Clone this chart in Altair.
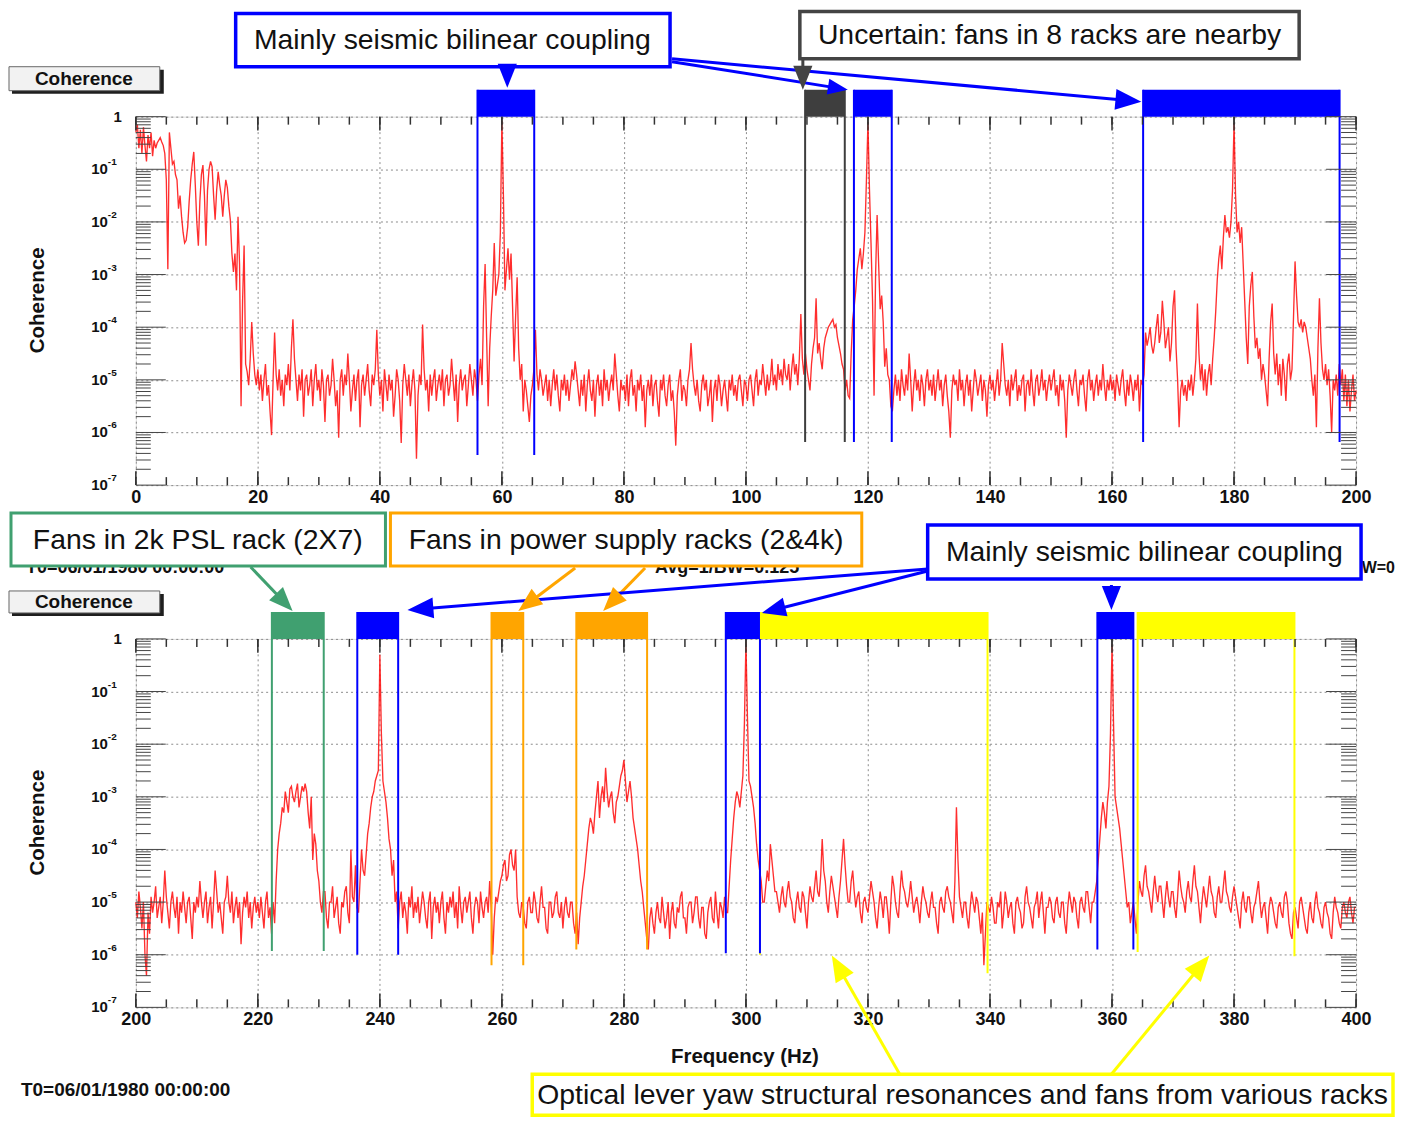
import math
import altair as alt
import pandas as pd

FONT = "Liberation Sans"
W, H = 1222, 369

# ---------------- data: coherence (log10), 0.25 Hz steps ----------------
STEP = 0.25
TOP_START = 0.0
BOT_START = 200.0

TOP_LOG = [
    # 0-10 Hz
    -0.3, -0.15, -0.6, -0.25, -0.7, -0.2, -0.55, -0.85, -0.35, -0.6, -0.3, -0.75, -0.45, -0.6, -0.5, -0.45, -0.4, -0.48, -0.55, -0.7,
    -1.2, -2.9, -0.3, -0.6, -0.9, -0.85, -1.1, -1.2, -1.75, -1.5, -1.9, -2.2, -2.4, -2.35, -2.1, -1.6, -1.2, -0.9, -0.67, -1.3,
    # 10-20 Hz
    -2.0, -2.45, -1.6, -1.1, -0.92, -1.5, -2.45, -1.4, -1.0, -0.85, -0.95, -1.5, -1.96, -1.4, -1.05, -1.3, -1.5, -1.9, -1.5, -1.2,
    -1.35, -1.7, -1.97, -2.6, -2.95, -2.6, -3.3, -1.9, -2.8, -5.5, -3.5, -2.45, -4.7, -4.85, -5.1, -4.6, -3.9, -4.5, -4.9, -5.1,
    # 20-30 Hz
    -4.8, -5.2, -4.9, -5.4, -5.0, -4.7, -5.3, -5.1, -5.6, -6.05, -5.0, -4.1, -4.9, -5.2, -4.8, -5.3, -5.0, -5.5, -4.9, -5.1,
    -4.7, -5.2, -4.4, -3.85, -4.6, -5.0, -5.4, -4.9, -5.2, -4.8, -5.7, -5.0, -4.9, -5.3, -5.1, -4.8, -5.5, -5.0, -4.7, -5.2,
    # 30-40 Hz
    -5.0, -5.4, -4.8, -5.1, -5.8, -5.0, -4.9, -5.3, -5.1, -4.6, -5.0, -5.5, -5.2, -6.1, -5.0, -4.8, -5.3, -4.9, -5.1, -4.5,
    -5.0, -5.6, -5.2, -4.9, -5.4, -5.0, -4.8, -5.9, -5.1, -4.9, -5.3, -5.0, -4.7, -5.2, -5.5, -4.9, -5.1, -4.8, -4.05, -4.9,
    # 40-50 Hz
    -5.3, -5.0, -5.6, -4.8, -5.1, -5.4, -4.9, -5.2, -5.0, -5.7, -5.3, -4.8, -5.0, -5.4, -6.2, -5.1, -4.7, -5.0, -5.3, -4.9,
    -5.5, -5.1, -4.8, -5.2, -6.5, -5.3, -4.9, -5.1, -3.95, -4.8, -5.2, -5.0, -5.6, -4.9, -5.3, -5.0, -4.8, -5.4, -5.1, -4.9,
    # 50-60 Hz
    -5.2, -4.8, -5.5, -5.0, -4.9, -5.3, -5.1, -4.6, -5.0, -5.4, -4.9, -5.8, -5.1, -4.8, -5.2, -5.0, -4.9, -5.5, -5.1, -4.7,
    -5.0, -5.3, -4.8, -5.0, -5.4, -4.9, -4.6, -5.1, -3.6, -2.8, -4.2, -5.5, -4.4, -3.8, -3.3, -2.4, -3.4, -3.2, -3.0, -2.2,
    # 60-70 Hz
    -0.08, -1.5, -3.3, -2.9, -2.5, -3.1, -2.6, -3.6, -4.65, -3.8, -3.05, -4.4, -5.0, -4.7, -5.6, -5.0, -5.2, -5.5, -5.8, -5.3,
    -5.1, -4.8, -4.05, -4.9, -5.2, -4.8, -5.0, -5.3, -5.1, -4.9, -5.4, -5.0, -5.5, -5.1, -4.8, -5.2, -4.9, -5.3, -5.6, -5.0,
    # 70-80 Hz
    -5.2, -4.9, -5.3, -5.0, -5.4, -5.1, -4.8, -5.0, -4.65, -4.9, -5.2, -5.5, -5.0, -5.3, -4.9, -5.6, -5.1, -4.8, -5.2, -5.4,
    -5.0, -5.7, -5.1, -4.9, -5.3, -5.0, -5.5, -4.8, -5.2, -5.0, -5.4, -5.1, -4.9, -5.2, -4.5, -4.9, -5.3, -5.6, -5.0, -5.2,
    # 80-90 Hz
    -5.1, -5.4, -4.9, -5.5, -5.0, -4.8, -5.3, -5.1, -5.6, -5.0, -5.2, -4.9, -5.4, -5.1, -5.9, -5.2, -5.0, -5.3, -4.9, -5.5,
    -5.1, -5.0, -5.4, -5.7, -5.0, -5.2, -4.9, -5.3, -5.5, -5.1, -4.9, -5.4, -5.2, -5.6, -6.25, -5.3, -5.0, -4.8, -5.4, -5.1,
    # 90-100 Hz
    -5.2, -5.5, -5.0, -4.8, -4.3, -4.8, -5.1, -5.3, -5.0, -5.4, -5.6, -5.1, -4.9, -5.2, -5.0, -5.5, -5.3, -5.0, -5.8, -5.2,
    -5.0, -5.4, -4.9, -5.1, -5.5, -5.2, -5.0, -5.3, -5.6, -5.0, -5.2, -4.9, -5.3, -5.1, -5.4, -5.0, -4.9, -5.2, -5.5, -5.0,
    # 100-110 Hz
    -5.1, -5.4, -5.0, -4.9, -5.2, -5.5, -5.0, -4.8, -5.3, -5.0, -5.1, -4.7, -5.0, -5.3, -4.9, -5.2, -5.0, -4.6, -5.1, -4.9,
    -5.2, -4.7, -5.0, -4.8, -5.1, -4.6, -4.9, -5.0, -4.7, -5.2, -4.8, -4.5, -4.9, -4.7, -5.1, -4.6, -3.75, -4.6, -4.9, -4.5,
    # 110-120 Hz
    -4.8, -5.0, -5.2, -4.7, -4.4, -4.2, -3.45, -4.5, -4.3, -4.6, -4.8, -4.4, -4.2, -4.1, -4.0, -3.95, -3.9, -3.85, -4.0, -3.95,
    -4.2, -4.35, -4.5, -4.7, -4.8, -5.2, -5.0, -5.3, -5.35, -4.5, -3.85, -3.6, -3.3, -2.9, -2.7, -2.5, -2.9, -2.6, -2.2, -1.2,
    # 120-130 Hz
    -0.1, -1.4, -2.4, -3.5, -5.3, -3.0, -1.87, -2.8, -3.66, -3.4, -3.9, -4.75, -4.4, -4.9, -5.0, -5.5, -5.6, -5.2, -4.9, -5.3,
    -5.0, -5.4, -4.8, -5.1, -5.3, -4.9, -5.2, -4.5, -5.0, -5.6, -5.1, -4.8, -5.2, -5.0, -5.4, -4.9, -5.1, -5.5, -5.0, -4.8,
    # 130-140 Hz
    -5.2, -5.0, -5.3, -4.9, -5.4, -5.1, -4.8, -5.2, -5.0, -5.5, -5.1, -4.9, -5.3, -5.6, -6.1, -5.2, -4.9, -5.1, -5.0, -5.4,
    -4.8, -5.2, -5.0, -5.5, -5.1, -4.9, -5.3, -5.0, -5.6, -5.2, -4.8, -5.0, -5.3, -5.1, -4.9, -5.4, -5.0, -5.2, -5.7, -5.1,
    # 140-150 Hz
    -4.9, -5.2, -5.0, -5.4, -5.1, -4.8, -5.3, -5.0, -4.3, -4.7, -5.1, -5.3, -5.0, -5.5, -4.9, -5.2, -5.0, -4.8, -5.4, -5.1,
    -5.3, -5.0, -4.9, -5.6, -5.1, -5.0, -5.3, -4.8, -5.2, -5.5, -5.0, -4.9, -5.3, -5.1, -4.8, -5.2, -5.0, -5.4, -5.1, -4.9,
    # 150-160 Hz
    -5.2, -5.0, -4.8, -5.3, -5.1, -5.5, -4.9, -5.2, -5.0, -5.4, -6.1, -5.2, -4.9, -5.1, -5.3, -5.0, -4.8, -5.2, -5.5, -5.0,
    -5.1, -4.9, -5.3, -5.6, -5.0, -4.8, -5.2, -5.0, -5.4, -5.1, -4.9, -5.3, -5.0, -5.2, -4.7, -5.1, -5.4, -5.0, -5.2, -4.9,
    # 160-170 Hz
    -5.2, -5.0, -5.4, -4.9, -5.1, -5.3, -5.0, -4.8, -5.2, -5.5, -5.0, -5.3, -4.9, -5.1, -5.4, -5.0, -5.2, -4.9, -5.6, -5.0,
    -5.1, -4.9, -4.1, -4.35, -4.2, -4.0, -4.35, -4.5, -4.3, -4.0, -3.75, -4.3, -4.1, -3.5, -3.9, -4.4, -4.2, -4.0, -4.65, -4.3,
    # 170-180 Hz
    -3.6, -3.3, -4.4, -5.0, -5.9, -5.2, -5.0, -5.3, -5.1, -5.4, -5.0, -5.2, -4.9, -5.3, -5.0, -4.6, -3.55, -4.5, -5.0, -4.7,
    -5.2, -4.8, -5.3, -4.9, -4.7, -5.1, -4.6, -4.2, -3.7, -3.1, -2.7, -2.45, -2.9, -2.3, -1.87, -2.2, -2.1, -2.3, -2.0, -1.4,
    # 180-190 Hz
    -0.12, -1.5, -2.2, -2.0, -2.4, -2.1, -2.8, -3.5, -4.2, -4.7, -3.6, -3.2, -2.95, -3.8, -4.4, -4.2, -4.6, -4.4, -5.0, -4.7,
    -4.9, -5.2, -5.5, -4.6, -3.9, -3.55, -4.5, -4.9, -4.5, -5.1, -4.7, -5.3, -4.6, -4.9, -5.4, -4.7, -4.5, -5.0, -4.8, -3.8,
    # 190-200 Hz
    -2.75, -3.4, -3.9, -4.0, -3.85, -4.1, -3.9, -4.0, -4.2, -4.4, -4.6, -5.0, -5.3, -4.9, -5.9, -4.4, -3.45, -4.3, -4.8, -5.0,
    -4.7, -5.1, -4.8, -5.3, -6.0, -5.0, -5.2, -4.9, -5.3, -4.7, -5.1, -4.8, -5.4, -4.9, -5.5, -5.0, -5.6, -5.2, -4.9, -5.4,
    -5.2,
]

BOT_LOG = [
    # 200-210 Hz
    -5.0, -5.3, -4.8, -5.1, -5.5, -5.0, -6.0, -6.4, -5.2, -5.6, -4.9, -5.2, -5.0, -4.7, -5.3, -5.1, -4.9, -5.4, -5.0, -4.4,
    -4.9, -5.2, -5.5, -5.0, -4.8, -5.1, -5.3, -4.9, -5.6, -5.0, -5.2, -4.8, -5.1, -5.4, -5.0, -4.9, -5.3, -5.7, -5.0, -5.2,
    # 210-220 Hz
    -4.9, -5.1, -4.6, -5.0, -5.3, -5.0, -4.8, -5.4, -5.1, -4.9, -5.5, -5.0, -4.4, -4.8, -5.2, -5.0, -5.3, -5.6, -5.0, -4.9,
    -4.5, -5.0, -5.2, -4.8, -5.4, -5.1, -4.9, -5.3, -5.0, -5.8, -5.2, -4.9, -5.1, -4.8, -5.3, -5.0, -5.5, -5.1, -4.9, -5.2,
    # 220-230 Hz
    -5.0, -5.3, -4.9, -5.2, -5.5, -5.0, -4.8, -5.3, -5.1, -5.6, -5.0, -5.4, -4.6, -4.0, -3.7, -3.5, -3.2, -3.3, -2.9, -3.1,
    -3.3, -2.85, -2.8, -3.0, -3.1, -2.9, -2.75, -3.2, -3.0, -2.8, -2.9, -2.75, -2.9, -3.3, -3.6, -3.0, -4.2, -3.7, -3.9, -4.4,
    # 230-240 Hz
    -4.6, -5.0, -5.2, -4.8, -4.8, -5.3, -5.5, -5.0, -5.0, -4.7, -5.3, -5.1, -4.9, -5.4, -5.6, -5.0, -5.1, -4.8, -4.7, -5.2,
    -5.4, -4.0, -4.9, -5.0, -4.3, -5.1, -5.2, -4.6, -4.0, -4.4, -4.5, -4.1, -3.7, -3.5, -3.2, -3.0, -2.9, -2.7, -2.6, -2.5,
    # 240-250 Hz
    -0.3, -1.8, -2.7, -2.9, -3.1, -3.4, -3.8, -4.0, -4.5, -4.2, -5.0, -4.8, -5.5, -5.0, -4.8, -5.3, -5.0, -5.2, -5.6, -4.9,
    -5.1, -4.7, -5.3, -5.0, -5.2, -4.9, -5.4, -5.1, -4.8, -5.0, -5.3, -5.5, -5.0, -4.8, -5.7, -5.1, -4.9, -5.2, -5.0, -5.4,
    # 250-260 Hz
    -5.0, -4.8, -5.3, -5.6, -5.0, -5.2, -4.9, -5.1, -4.8, -5.3, -5.0, -5.5, -4.7, -5.1, -5.4, -5.0, -4.9, -5.2, -5.0, -4.8,
    -5.3, -5.6, -5.1, -4.9, -5.0, -5.4, -4.8, -5.1, -5.3, -5.0, -4.9, -5.2, -4.6, -5.1, -6.0, -5.3, -4.9, -5.0, -4.8, -4.6,
    # 260-270 Hz
    -4.5, -4.3, -4.2, -4.6, -4.5, -4.1, -4.0, -4.3, -4.4, -4.0, -4.9, -5.2, -5.3, -5.0, -5.1, -5.4, -5.5, -5.0, -4.9, -5.2,
    -5.2, -4.8, -5.0, -5.3, -5.4, -5.0, -4.7, -5.1, -5.1, -5.5, -5.6, -5.0, -5.0, -5.3, -5.2, -4.9, -4.8, -5.2, -5.3, -5.0,
    # 270-280 Hz
    -5.5, -5.1, -4.9, -5.2, -5.3, -5.0, -5.0, -5.4, -5.6, -5.2, -5.8, -5.3, -5.0, -4.7, -4.5, -4.2, -3.9, -3.6, -3.4, -3.5,
    -3.7, -3.3, -3.0, -2.7, -3.4, -3.0, -2.8, -3.1, -2.45, -2.9, -3.2, -3.0, -2.9, -3.3, -3.5, -3.1, -3.0, -2.8, -2.6, -2.5,
    # 280-290 Hz
    -2.3, -2.7, -3.1, -2.9, -2.7, -3.0, -3.4, -3.6, -3.8, -4.0, -4.3, -4.6, -4.8, -5.1, -5.4, -5.7, -5.9, -5.3, -5.1, -5.4,
    -5.6, -5.2, -5.0, -5.3, -5.4, -4.9, -5.2, -5.5, -5.3, -5.0, -5.7, -5.2, -5.0, -5.4, -5.5, -5.1, -5.2, -4.9, -4.8, -5.3,
    # 290-300 Hz
    -5.3, -5.6, -5.1, -5.0, -5.0, -5.4, -5.2, -4.9, -4.9, -5.3, -5.5, -5.1, -5.1, -5.6, -5.7, -5.2, -5.0, -4.9, -5.3, -5.4,
    -4.8, -5.2, -5.5, -5.0, -5.1, -5.3, -4.9, -5.2, -5.2, -4.7, -4.2, -3.8, -3.4, -3.1, -2.9, -3.0, -3.2, -2.9, -2.6, -1.6,
    # 300-310 Hz
    -0.05, -1.5, -2.7, -2.8, -3.0, -3.2, -3.5, -3.9, -4.2, -4.4, -4.6, -5.0, -5.0, -4.7, -4.4, -4.6, -3.9, -4.2, -4.5, -4.8,
    -4.8, -5.0, -5.2, -4.9, -4.7, -5.0, -5.1, -4.8, -4.6, -4.9, -5.0, -5.3, -5.4, -5.0, -4.8, -5.1, -5.2, -4.8, -4.9, -5.2,
    # 310-320 Hz
    -5.5, -5.0, -4.7, -4.9, -5.0, -4.7, -4.4, -4.8, -4.9, -4.5, -3.8, -4.4, -4.6, -5.0, -5.2, -4.8, -4.5, -4.7, -4.9, -5.1,
    -5.3, -4.9, -4.6, -4.2, -3.8, -4.3, -4.7, -5.0, -5.0, -4.6, -4.4, -4.8, -5.1, -4.9, -4.8, -5.2, -5.4, -5.0, -4.9, -5.1,
    # 320-330 Hz
    -5.2, -4.9, -4.6, -4.8, -5.0, -5.3, -5.5, -5.1, -4.8, -5.0, -5.3, -4.9, -4.9, -5.2, -5.6, -5.0, -4.5, -4.7, -5.0, -5.2,
    -5.3, -4.8, -4.4, -4.7, -4.8, -5.0, -5.1, -4.9, -4.6, -4.9, -5.2, -5.0, -4.9, -5.1, -5.4, -5.0, -4.7, -4.9, -5.0, -5.2,
    # 330-340 Hz
    -5.3, -5.0, -4.8, -5.1, -5.1, -5.4, -5.6, -5.0, -4.9, -5.1, -5.2, -4.8, -4.7, -4.9, -5.0, -5.2, -5.4, -4.6, -3.2, -4.2,
    -4.9, -5.1, -5.3, -5.0, -5.0, -5.3, -5.5, -5.1, -4.8, -5.0, -5.2, -4.9, -5.0, -5.3, -5.6, -5.2, -6.2, -5.6, -5.0, -5.1,
    # 340-350 Hz
    -5.2, -4.9, -5.1, -5.4, -5.4, -5.0, -5.1, -4.8, -5.5, -5.2, -4.8, -5.0, -5.3, -5.1, -5.0, -5.4, -5.6, -5.0, -4.9, -5.1,
    -5.2, -5.5, -5.4, -4.9, -4.7, -5.0, -5.1, -5.3, -5.5, -5.1, -5.0, -4.8, -5.3, -5.0, -4.8, -5.2, -5.6, -5.1, -5.1, -4.9,
    # 350-360 Hz
    -5.0, -5.3, -5.4, -5.0, -4.9, -5.2, -5.3, -5.0, -5.0, -5.4, -5.6, -5.1, -4.8, -5.0, -5.2, -4.9, -5.0, -5.3, -5.5, -5.0,
    -4.9, -5.1, -5.2, -4.8, -4.8, -5.1, -5.4, -5.0, -5.0, -4.8, -4.6, -4.2, -3.8, -3.4, -3.1, -3.3, -3.6, -3.1, -2.8, -1.8,
    # 360-370 Hz
    -0.1, -1.6, -3.0, -3.2, -3.4, -3.6, -3.9, -4.2, -4.5, -4.8, -5.1, -5.0, -5.4, -5.2, -5.0, -5.3, -5.6, -5.0, -4.6, -4.8,
    -4.9, -4.5, -4.3, -4.7, -4.8, -5.0, -5.2, -4.8, -4.5, -4.8, -5.0, -4.7, -4.7, -5.0, -5.3, -4.9, -4.6, -4.9, -5.1, -4.8,
    # 370-380 Hz
    -4.8, -5.1, -5.3, -4.9, -4.4, -4.7, -4.9, -5.0, -5.2, -4.8, -4.6, -4.9, -5.0, -4.6, -4.3, -4.7, -4.8, -5.1, -5.4, -5.0,
    -4.7, -4.9, -5.1, -4.8, -4.5, -4.8, -4.9, -5.2, -5.3, -4.9, -4.7, -5.0, -5.0, -4.7, -4.4, -4.8, -4.9, -5.1, -5.2, -4.9,
    # 380-390 Hz
    -4.7, -4.9, -5.1, -5.3, -5.5, -5.0, -4.8, -5.1, -5.2, -4.9, -4.9, -5.2, -5.4, -5.1, -5.0, -4.8, -4.6, -5.0, -5.3, -5.1,
    -5.0, -5.3, -5.6, -5.1, -4.9, -5.0, -5.2, -5.4, -5.5, -5.1, -5.0, -5.2, -5.3, -4.9, -4.8, -5.0, -5.4, -5.6, -5.7, -5.2,
    # 390-400 Hz
    -5.1, -5.3, -5.5, -5.0, -4.9, -5.1, -5.3, -5.5, -5.6, -5.2, -5.0, -5.3, -5.4, -5.0, -4.8, -5.1, -5.2, -5.4, -5.5, -5.1,
    -5.0, -5.2, -5.3, -5.6, -5.7, -5.2, -4.9, -5.1, -5.2, -5.4, -5.5, -5.1, -5.0, -5.2, -5.3, -5.0, -4.9, -5.2, -5.4, -5.1,
    -5.1,
]

TOP_X_LABELS = [0, 20, 40, 60, 80, 100, 120, 140, 160, 180, 200]
BOT_X_LABELS = [200, 220, 240, 260, 280, 300, 320, 340, 360, 380, 400]
Y_DECADES = [0, -1, -2, -3, -4, -5, -6, -7]

# frequency bands (Hz) marked above each panel, with the log10 coherence reached by their edge lines
TOP_BAND_LO = [56.0, 109.7, 117.7, 165.1]
TOP_BAND_HI = [65.3, 116.2, 123.9, 197.3]
TOP_BAND_KIND = ["seismic", "uncertain", "seismic", "seismic"]
TOP_EDGE_LO_LOG = [-6.43, -6.18, -6.18, -6.18]
TOP_EDGE_HI_LOG = [-6.43, -6.18, -6.18, -6.18]

BOT_BAND_LO = [222.3, 236.3, 258.3, 272.2, 296.7, 302.3, 357.6, 364.2]
BOT_BAND_HI = [230.8, 243.0, 263.5, 283.8, 302.3, 339.6, 363.5, 389.9]
BOT_BAND_KIND = ["psl", "seismic", "power", "power", "seismic", "oplev", "seismic", "oplev"]
BOT_EDGE_LO_LOG = [-5.93, -6.0, -6.2, -5.9, -5.97, -6.0, -5.9, -5.95]
BOT_EDGE_HI_LOG = [-5.93, -6.0, -6.2, -5.9, -5.97, -6.35, -5.9, -6.03]

KINDS = ["seismic", "uncertain", "psl", "power", "oplev"]
KIND_COLORS = ["#0000ff", "#3e3e3e", "#40a070", "#ffa500", "#ffff00"]

ARROW_PATH = "M0,-1L0.8,1L-0.8,1Z"


def arrow_frames(arrows):
    lines, heads = [], []
    for x0, y0, x1, y1, col, size, w in arrows:
        dx, dy = x1 - x0, y1 - y0
        L = math.hypot(dx, dy)
        ux, uy = dx / L, dy / L
        r = math.sqrt(size) / 2
        cx, cy = x1 - ux * r, y1 - uy * r
        ang = math.degrees(math.atan2(dx, -dy)) % 360
        if L > 2 * r:
            lines.append(dict(x=x0, y=y0, x2=cx, y2=cy, col=col, w=w))
        heads.append(dict(x=cx, y=cy, ang=ang, s=size, col=col))
    return pd.DataFrame(lines), pd.DataFrame(heads)


PX = dict(scale=None, axis=None)


def panel(start, logs, lo, hi, kinds, elo, ehi, xlabels, boxes, hidden, texts, bold_texts, arrows):
    xs = alt.Scale(domain=[xlabels[0], xlabels[-1]], nice=False, zero=False)
    ys = alt.Scale(type="log", domain=[1e-7, 1], nice=False)
    ks = alt.Scale(domain=KINDS, range=KIND_COLORS)
    xaxis = alt.Axis(values=xlabels, grid=True, gridDash=[2, 3], gridColor="#8c8c8c", ticks=False,
                     domain=False, labelFont=FONT, labelFontWeight="bold", labelFontSize=18,
                     labelPadding=3, labelFlush=False, labelColor="#111111", title=None)
    yaxis = alt.Axis(values=[10.0 ** k for k in Y_DECADES], grid=True, gridDash=[2, 3],
                     gridColor="#8c8c8c", ticks=False, domain=False, labels=False, title=None)

    def X(f):
        return alt.X(f, type="quantitative", scale=xs, axis=xaxis)

    def Y(f):
        return alt.Y(f, type="quantitative", scale=ys, axis=yaxis)

    df = pd.DataFrame({"f": [start + i * STEP for i in range(len(logs))],
                       "c": [10.0 ** v for v in logs]})
    layers = []
    layers.append(alt.Chart(df).mark_line(color="#ff0000", strokeWidth=1.35, opacity=0.82).encode(x=X("f"), y=Y("c")))

    edges = pd.DataFrame({"f": lo + hi, "c": [10.0 ** v for v in elo + ehi], "kind": kinds + kinds})
    layers.append(alt.Chart(edges).mark_rule(strokeWidth=2).encode(
        x=X("f"), y=Y("c"), y2=alt.value(-27),
        stroke=alt.Stroke("kind:N", scale=ks, legend=None)))
    bands = pd.DataFrame({"lo": lo, "hi": hi, "kind": kinds})
    layers.append(alt.Chart(bands).mark_rect().encode(
        x=X("lo"), x2="hi", y=alt.value(-27), y2=alt.value(0),
        fill=alt.Fill("kind:N", scale=ks, legend=None)))

    # axis tick marks drawn inside the frame (ROOT style)
    yminor = pd.DataFrame({"c": [m * 10.0 ** k for k in Y_DECADES[1:] for m in range(2, 10)]})
    ymajor = pd.DataFrame({"c": [10.0 ** k for k in Y_DECADES]})
    for d, ln in ((yminor, 15), (ymajor, 30)):
        layers.append(alt.Chart(d).mark_rule(color="#444444", strokeWidth=1).encode(
            y=Y("c"), x=alt.value(0), x2=alt.value(ln)))
        layers.append(alt.Chart(d).mark_rule(color="#444444", strokeWidth=1).encode(
            y=Y("c"), x=alt.value(W - ln), x2=alt.value(W)))
    xminor = pd.DataFrame({"f": list(range(xlabels[0], xlabels[-1] + 1, 5))})
    xmajor = pd.DataFrame({"f": xlabels})
    for d, ln in ((xminor, 8), (xmajor, 14)):
        layers.append(alt.Chart(d).mark_rule(color="#333333", strokeWidth=1.5).encode(
            x=X("f"), y=alt.value(H - ln), y2=alt.value(H)))
        layers.append(alt.Chart(d).mark_rule(color="#333333", strokeWidth=1.5).encode(
            x=X("f"), y=alt.value(0), y2=alt.value(ln)))

    # log axis labels
    ylab = pd.DataFrame({"c": [10.0 ** k for k in Y_DECADES[1:]],
                         "base": ["10"] * 7, "exp": [str(k) for k in Y_DECADES[1:]]})
    layers.append(alt.Chart(ylab).mark_text(align="right", baseline="middle", font=FONT,
                                            fontWeight="bold", fontSize=15, color="#111111").encode(
        y=Y("c"), x=alt.value(-28), text="base:N"))
    layers.append(alt.Chart(ylab).mark_text(align="left", baseline="middle", font=FONT,
                                            fontWeight="bold", fontSize=10, dy=-7, color="#111111").encode(
        y=Y("c"), x=alt.value(-28), text="exp:N"))
    one = pd.DataFrame({"c": [1.0], "t": ["1"]})
    layers.append(alt.Chart(one).mark_text(align="right", baseline="middle", font=FONT,
                                           fontWeight="bold", fontSize=15, color="#111111").encode(
        y=Y("c"), x=alt.value(-14), text="t:N"))

    # ROOT texts partly covered by the annotation boxes
    if hidden:
        hd = pd.DataFrame(hidden, columns=["t", "x", "y", "fs", "align"])
        for al in ("left", "right"):
            sub = hd[hd["align"] == al]
            if len(sub):
                layers.append(alt.Chart(sub).mark_text(align=al, baseline="middle", font=FONT,
                                                       fontWeight="bold", color="#111111").encode(
                    x=alt.X("x:Q", **PX), y=alt.Y("y:Q", **PX), text="t:N",
                    size=alt.Size("fs:Q", scale=None)))

    bx = pd.DataFrame(boxes, columns=["x", "x2", "y", "y2", "stroke", "sw", "fill"])
    layers.append(alt.Chart(bx).mark_rect().encode(
        x=alt.X("x:Q", **PX), x2="x2:Q", y=alt.Y("y:Q", **PX), y2="y2:Q",
        fill=alt.Fill("fill:N", scale=None), stroke=alt.Stroke("stroke:N", scale=None),
        strokeWidth=alt.StrokeWidth("sw:Q", scale=None)))

    lines, heads = arrow_frames(arrows)
    if len(lines):
        layers.append(alt.Chart(lines).mark_rule().encode(
            x=alt.X("x:Q", **PX), x2="x2:Q", y=alt.Y("y:Q", **PX), y2="y2:Q",
            stroke=alt.Stroke("col:N", scale=None), strokeWidth=alt.StrokeWidth("w:Q", scale=None)))
    layers.append(alt.Chart(heads).mark_point(shape=ARROW_PATH, filled=True, opacity=1, strokeWidth=0).encode(
        x=alt.X("x:Q", **PX), y=alt.Y("y:Q", **PX),
        angle=alt.Angle("ang:Q", scale=None), size=alt.Size("s:Q", scale=None),
        fill=alt.Fill("col:N", scale=None)))

    td = pd.DataFrame(texts, columns=["t", "x", "y"])
    layers.append(alt.Chart(td).mark_text(align="center", baseline="middle", font=FONT,
                                          fontSize=28.4, color="#111111").encode(
        x=alt.X("x:Q", **PX), y=alt.Y("y:Q", **PX), text="t:N"))

    bd = pd.DataFrame(bold_texts, columns=["t", "x", "y", "fs", "align", "ang"])
    for al in ("center", "left"):
        for ang in (0, 270):
            sub = bd[(bd["align"] == al) & (bd["ang"] == ang)]
            if len(sub):
                layers.append(alt.Chart(sub).mark_text(align=al, baseline="middle", font=FONT,
                                                       fontWeight="bold", angle=ang, color="#111111").encode(
                    x=alt.X("x:Q", **PX), y=alt.Y("y:Q", **PX), text="t:N",
                    size=alt.Size("fs:Q", scale=None)))

    return alt.layer(*layers).properties(width=W, height=H)


# ---------------- annotation layout (pixels relative to each plot area) ----------------
TOP_BOXES = [
    (-124, 28, -47, -23, "#1e1e1e", 0, "#1e1e1e"),
    (-127, 24, -50, -26, "#666666", 1, "#f2f2f2"),
    (100, 535, -103.25, -50, "#0000ff", 3.5, "#ffffff"),
    (665, 1165, -105.25, -58, "#444444", 3.5, "#ffffff"),
]
TOP_TEXTS = [
    ("Mainly seismic bilinear coupling", 317, -76.5),
    ("Uncertain: fans in 8 racks are nearby", 915, -81.5),
]
TOP_BOLD = [
    ("Coherence", -52, -38, 19, "center", 0),
    ("Coherence", -98, 184, 20.5, "center", 270),
]
TOP_ARROWS = [
    (537, -58, 1007, -15, "#0000ff", 676, 3),
    (537, -55, 713, -27, "#0000ff", 400, 3),
    (668, -58, 668, -27, "#444444", 576, 3),
    (372, -52, 372, -29, "#0000ff", 576, 3),
]

BOT_HIDDEN = [
    ("T0=06/01/1980 00:00:00", -110, -71, 18, "left"),
    ("Avg=1/BW=0.125", 520, -71, 18, "left"),
    ("BW=0", 1261, -71, 16, "right"),
]
BOT_BOXES = [
    (-124, 28, -45, -23, "#1e1e1e", 0, "#1e1e1e"),
    (-127, 24, -48, -26, "#666666", 1, "#f2f2f2"),
    (-125, 250, -126, -73, "#40a070", 3, "#ffffff"),
    (255, 727, -126, -73, "#ffa500", 3, "#ffffff"),
    (793, 1227, -114, -60, "#0000ff", 3.5, "#ffffff"),
    (397, 1259, 436, 477, "#ffff00", 3.5, "#ffffff"),
]
BOT_TEXTS = [
    ("Fans in 2k PSL rack (2X7)", 62, -99),
    ("Fans in power supply racks (2&4k)", 491, -99),
    ("Mainly seismic bilinear coupling", 1010, -87),
    ("Optical lever yaw structural resonances and fans from various racks", 828, 456.5),
]
BOT_BOLD = [
    ("Coherence", -52, -37, 19, "center", 0),
    ("Coherence", -98, 184, 20.5, "center", 270),
    ("Frequency (Hz)", 610, 419, 20.5, "center", 0),
    ("T0=06/01/1980 00:00:00", -115, 452, 19, "left", 0),
]
BOT_ARROWS = [
    (115, -72, 157, -28, "#40a070", 576, 3),
    (440, -71, 383, -28, "#ffa500", 576, 3),
    (510, -71, 468, -28, "#ffa500", 576, 3),
    (793, -70, 272, -29, "#0000ff", 676, 3),
    (793, -68, 627, -26, "#0000ff", 576, 3),
    (977, -54, 977, -29, "#0000ff", 576, 3),
    (765, 436, 697, 317, "#ffff00", 676, 3),
    (977, 436, 1075, 317, "#ffff00", 676, 3),
]

top = panel(TOP_START, TOP_LOG, TOP_BAND_LO, TOP_BAND_HI, TOP_BAND_KIND, TOP_EDGE_LO_LOG, TOP_EDGE_HI_LOG,
            TOP_X_LABELS, TOP_BOXES, [], TOP_TEXTS, TOP_BOLD, TOP_ARROWS)
bottom = panel(BOT_START, BOT_LOG, BOT_BAND_LO, BOT_BAND_HI, BOT_BAND_KIND, BOT_EDGE_LO_LOG, BOT_EDGE_HI_LOG,
               BOT_X_LABELS, BOT_BOXES, BOT_HIDDEN, BOT_TEXTS, BOT_BOLD, BOT_ARROWS)

chart = alt.vconcat(top, bottom, spacing=154, bounds="flush").properties(padding=0).configure_view(
    stroke="#000000", strokeWidth=2).configure(background="#ffffff")

chart.save("out.html", embed_options={"renderer": "svg", "actions": False})
